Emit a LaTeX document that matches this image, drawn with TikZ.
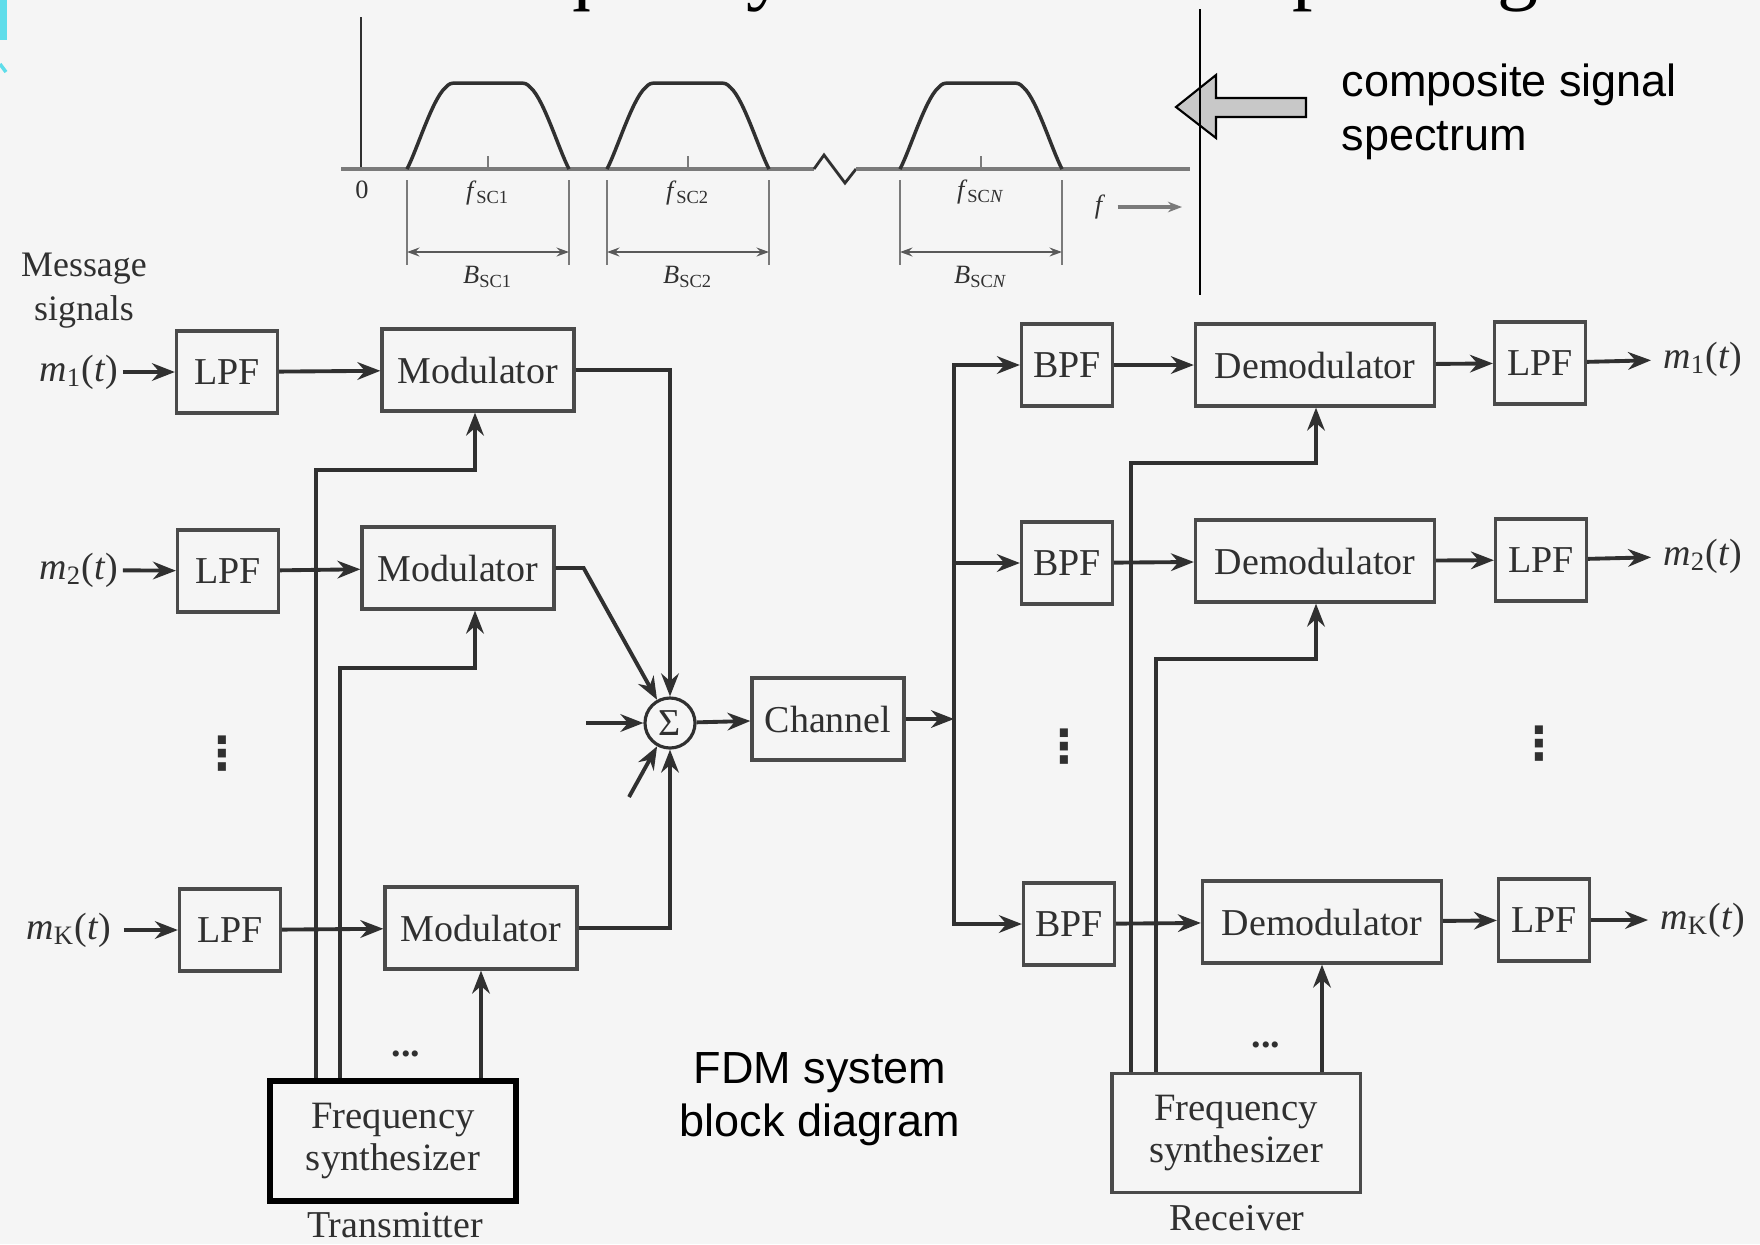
\documentclass[tikz,border=0pt]{standalone}
\usepackage{fontspec}
\setmainfont{Liberation Serif}
\newfontfamily\arialfont{Liberation Sans}
\newfontfamily\symbfont{DejaVu Sans}
\usetikzlibrary{arrows.meta,positioning}
\usepackage{xcolor}
\definecolor{paper}{HTML}{F5F5F5}
\definecolor{ink}{HTML}{303030}
\definecolor{frame}{HTML}{4A4A4A}
\definecolor{axisgray}{HTML}{7A7A7A}
\definecolor{slidecyan}{HTML}{5FDDEA}
\definecolor{hollow}{HTML}{C8C8C8}

\newcommand{\msig}[1]{\textit{m}\textsubscript{#1}(\textit{t})}

\begin{document}
\begin{tikzpicture}[x=0.01cm, y=-0.01cm,
    blk/.style={draw=frame, line width=0.9pt, minimum height=0.82cm, inner sep=2pt, text=ink, font=\fontsize{10.8}{13}\selectfont},
    lpf/.style={blk, minimum width=1.01cm},
    bpf/.style={blk, minimum width=0.91cm},
    modbox/.style={blk, minimum width=1.92cm},
    dembox/.style={blk, minimum width=2.39cm},
    synth/.style={blk, align=center, minimum width=2.46cm, minimum height=1.2cm, font=\fontsize{11}{12.2}\selectfont},
    sig/.style={-{Stealth[length=6.5pt, width=5pt]}, line width=1.1pt, draw=ink},
    lbl/.style={text=ink, font=\fontsize{10.8}{13}\selectfont},
    vdots/.style={text=ink, inner sep=0pt, font=\symbfont\bfseries\fontsize{13}{13}\selectfont},
    small/.style={text=ink, font=\fontsize{7.5}{9}\selectfont},
    dimarrow/.style={{Stealth[length=3.5pt, width=2.5pt]}-{Stealth[length=3.5pt, width=2.5pt]}, line width=0.6pt, draw=ink!80},
    sans/.style={font=\arialfont\fontsize{12.8}{15.2}\selectfont, inner sep=0pt, text=black},
]

\useasboundingbox (0,0) rectangle (1760,1244);
\fill[paper] (0,0) rectangle (1760,1244);
\fill[slidecyan] (0,0) rectangle (7,40);
\draw[slidecyan, line width=1pt] (0,64) -- (6,72);

\begin{scope}
\clip (0,0) rectangle (1760,1244);
\node[anchor=base west, inner sep=0pt, font=\fontsize{23.3}{28}\selectfont] (title) at (441,-6) {Frequency Division Multiplexing};
\end{scope}

% spectrum
\draw[ink, line width=0.6pt] (361,169) -- (361,17);
\draw[axisgray, line width=1.4pt] (341,169) -- (814,169);
\draw[ink, line width=0.8pt] (814,169) -- (824,155) -- (845,183) -- (856,169);
\draw[axisgray, line width=1.4pt] (856,169) -- (1190,169);
\draw[ink, line width=1pt] (407,169) .. controls (417,150) and (432,100) .. (445,88) .. controls (450,83) .. (459,83) -- (517,83) .. controls (526,83) .. (531,88) .. controls (544,100) and (559,150) .. (569,169);
\draw[ink, line width=1pt] (607,169) .. controls (617,150) and (632,100) .. (645,88) .. controls (650,83) .. (659,83) -- (717,83) .. controls (726,83) .. (731,88) .. controls (744,100) and (759,150) .. (769,169);
\draw[ink, line width=1pt] (900,169) .. controls (910,150) and (925,100) .. (938,88) .. controls (943,83) .. (952,83) -- (1010,83) .. controls (1019,83) .. (1024,88) .. controls (1037,100) and (1052,150) .. (1062,169);
\draw[axisgray, line width=0.5pt] (488,169) -- (488,156) (688,169) -- (688,156) (981,169) -- (981,156);
\draw[axisgray, line width=0.6pt] (407,180) -- (407,265) (569,180) -- (569,265) (607,180) -- (607,265) (769,180) -- (769,265) (900,180) -- (900,265) (1062,180) -- (1062,265);
\draw[dimarrow] (407,252) -- (569,252);
\draw[dimarrow] (607,252) -- (769,252);
\draw[dimarrow] (900,252) -- (1062,252);

\node[small] (zero) at (362,190) {0};
\node[small] (fa) at (488,193) {\textit{f}\textsubscript{SC1}};
\node[small] (fb) at (688,193) {\textit{f}\textsubscript{SC2}};
\node[small] (fn) at (981,192) {\textit{f}\textsubscript{SC\textit{N}}};
\node[small] (ba) at (488,277) {\textit{B}\textsubscript{SC1}};
\node[small] (bb) at (688,277) {\textit{B}\textsubscript{SC2}};
\node[small] (bn) at (981,277) {\textit{B}\textsubscript{SC\textit{N}}};
\node[small] (fax) at (1100,207) {\textit{f}};
\coordinate (fend) at (1182,207);
\draw[axisgray, line width=1.2pt, -{Stealth[length=4pt, width=3pt]}] (fax.east) -- (fend);

\draw[black, line width=0.6pt, fill=hollow] (1176,107) -- (1216,75) -- (1216,98) -- (1306,98) -- (1306,117) -- (1216,117) -- (1216,138) -- cycle;
\draw[black, line width=0.8pt] (1200,9) -- (1200,295);
\node[sans, anchor=west, align=left] (comp) at (1341,112) {composite signal\\spectrum};
\node[sans, align=center] (fdm) at (820,1099) {FDM system\\block diagram};

% transmitter
\node[lbl, align=center, font=\fontsize{10.2}{12.5}\selectfont] (msg) at (84,291) {Message\\signals};
\node[lbl, inner sep=1pt] (inA) at (79,372) {\msig{1}};
\node[lbl, inner sep=1pt] (inB) at (79,570) {\msig{2}};
\node[lbl] (inK) at (69,930) {\msig{K}};
\node[lpf] (lpfA) at (227,372) {LPF};
\node[modbox] (modA) at (478,370) {Modulator};
\node[lpf] (lpfB) at (228,571) {LPF};
\node[modbox] (modB) at (458,568) {Modulator};
\node[lpf] (lpfK) at (230,930) {LPF};
\node[modbox] (modK) at (481,928) {Modulator};
\node[synth, draw=black, line width=1.6pt] (synT) at (393,1141) {Frequency\\synthesizer};
\node[lbl] (tx) at (395,1225) {Transmitter};
\node[vdots] (vdT) at (222,754) {⋮};
\node[lbl] (hdT) at (406,1054) {\textbf{...}};
\node[lbl, draw=ink, circle, line width=0.9pt, minimum size=0.5cm, inner sep=0pt] (sum) at (670,723) {Σ};
\node[blk, minimum width=1.52cm] (chan) at (828,719) {Channel};
\coordinate (inS) at (586,723);
\coordinate (inD) at (629,797);
\coordinate (bus) at (954,719);

% receiver
\node[bpf] (bpfA) at (1067,365) {BPF};
\node[bpf] (bpfB) at (1067,563) {BPF};
\node[bpf] (bpfK) at (1069,924) {BPF};
\node[dembox] (demA) at (1315,365) {Demodulator};
\node[dembox] (demB) at (1315,561) {Demodulator};
\node[dembox] (demK) at (1322,922) {Demodulator};
\node[bpf] (lpfRA) at (1540,363) {LPF};
\node[bpf] (lpfRB) at (1541,560) {LPF};
\node[bpf] (lpfRK) at (1544,920) {LPF};
\node[lbl] (outA) at (1703,359) {\msig{1}};
\node[lbl] (outB) at (1703,556) {\msig{2}};
\node[lbl] (outK) at (1703,920) {\msig{K}};
\node[synth, minimum width=2.48cm, minimum height=1.19cm] (synR) at (1236,1133) {Frequency\\synthesizer};
\node[lbl] (rx) at (1237,1218) {Receiver};
\node[vdots] (vdB) at (1064,747) {⋮};
\node[vdots] (vdL) at (1539,744) {⋮};
\node[lbl] (hdR) at (1266,1045) {\textbf{...}};

\draw[sig] (inA) -- (lpfA);
\draw[sig] (lpfA) -- (modA);
\draw[sig] (inB) -- (lpfB);
\draw[sig] (lpfB) -- (modB);
\draw[sig] (inK) -- (lpfK);
\draw[sig] (lpfK) -- (modK);
\draw[sig] (modA.east) -| (sum.north);
\draw[sig] (modB.east) -- ++(28,0) -- (sum);
\draw[sig] (modK.east) -| (sum.south);
\draw[sig] (inS) -- (sum);
\draw[sig] (inD) -- (sum);
\draw[sig] (sum) -- (chan);
\draw[sig] (chan) -- (bus);
\draw[sig] (bus) |- (bpfA);
\draw[sig] (bus) |- (bpfB);
\draw[sig] (bus) |- (bpfK);
\draw[sig] (bpfA) -- (demA);
\draw[sig] (bpfB) -- (demB);
\draw[sig] (bpfK) -- (demK);
\draw[sig] (demA) -- (lpfRA);
\draw[sig] (demB) -- (lpfRB);
\draw[sig] (demK) -- (lpfRK);
\draw[sig] (lpfRA) -- (outA);
\draw[sig] (lpfRB) -- (outB);
\draw[sig] (lpfRK) -- (outK);

\coordinate (tA) at (316,470);
\coordinate (kA) at (475,470);
\coordinate (tB) at (340,668);
\coordinate (kB) at (475,668);
\draw[sig] (synT.north -| tA) -- (tA) -- (kA) -- (kA |- modA.south);
\draw[sig] (synT.north -| tB) -- (tB) -- (kB) -- (kB |- modB.south);
\draw[sig] (synT.north -| modK.south) -- (modK.south);

\coordinate (rA) at (1131,463);
\coordinate (qA) at (1316,463);
\coordinate (rB) at (1156,659);
\coordinate (qB) at (1316,659);
\draw[sig] (synR.north -| rA) -- (rA) -- (qA) -- (qA |- demA.south);
\draw[sig] (synR.north -| rB) -- (rB) -- (qB) -- (qB |- demB.south);
\draw[sig] (synR.north -| demK.south) -- (demK.south);

\end{tikzpicture}
\end{document}
